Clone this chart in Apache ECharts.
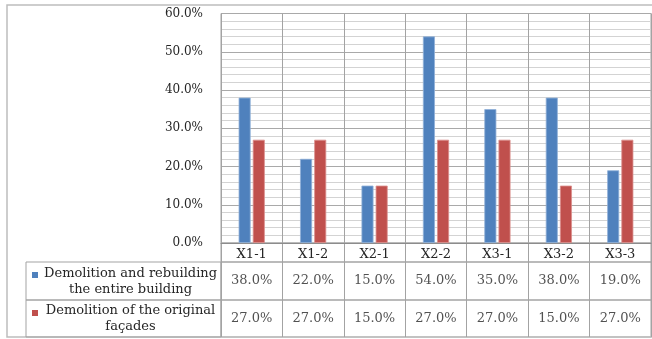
<!DOCTYPE html>
<html>
<head>
<meta charset="utf-8">
<script src="https://cdn.jsdelivr.net/npm/echarts@6/dist/echarts.min.js"></script>
<style>
  html, body { margin: 0; padding: 0; background: #fff; }
  #chart { width: 652px; height: 339px; }
</style>
</head>
<body>
<div id="chart"></div>
<script>
// Categories and the two series (percent values)
const categories = ['X1-1', 'X1-2', 'X2-1', 'X2-2', 'X3-1', 'X3-2', 'X3-3'];
const seriesNames = [
  'Demolition and rebuilding\nthe entire building',
  'Demolition of the original\nfaçades'
];
const rebuildValues = [38, 22, 15, 54, 35, 38, 19];
const facadeValues = [27, 27, 15, 27, 27, 15, 27];
const yTicks = [0, 10, 20, 30, 40, 50, 60];

const seriesValues = [rebuildValues, facadeValues];
const colors = ['#4F81BD', '#C0504D'];
const edgeColors = ['#8fb0d8', '#dc8f8d'];

const FONT = 'DejaVu Serif';
const TEXT = '#262626';
const LINE = '#a3a3a3';

// layout of the plot and data table
const L = 221, W = 430;
const plotTop = 13.5, plotH = 229.5;
const headTop = 243, headH = 19;
const rowTops = [262, 300], rowHs = [38, 37];
const legendLeft = 26;

const fmt = v => v.toFixed(1) + '%';

const grids = [
  { left: L, top: plotTop, width: W, height: plotH, show: true, borderColor: LINE, borderWidth: 1 },
  { left: L, top: headTop, width: W, height: headH, show: true, borderColor: LINE, borderWidth: 1 },
  { left: L, top: rowTops[0], width: W, height: rowHs[0], show: true, borderColor: LINE, borderWidth: 1 },
  { left: L, top: rowTops[1], width: W, height: rowHs[1], show: true, borderColor: LINE, borderWidth: 1 }
];

const xAxes = [
  {
    type: 'category', gridIndex: 0, data: categories,
    axisLine: { show: true, lineStyle: { color: '#8c8c8c', width: 1 } },
    axisTick: { show: false },
    axisLabel: { show: true, interval: 0, margin: 5, fontFamily: FONT, fontSize: 13, color: TEXT },
    splitLine: { show: true, interval: 0, lineStyle: { color: LINE, width: 1 } }
  }
];
const yAxes = [
  {
    type: 'value', gridIndex: 0, min: yTicks[0], max: yTicks[yTicks.length - 1], interval: 10,
    axisLine: { show: false }, axisTick: { show: false },
    axisLabel: { margin: 18, fontFamily: FONT, fontSize: 12, color: TEXT, formatter: v => fmt(v) },
    splitLine: { show: true, lineStyle: { color: '#a9a9a9', width: 1 } },
    minorTick: { show: false, splitNumber: 5 },
    minorSplitLine: { show: true, lineStyle: { color: '#d3d3d3', width: 1 } }
  }
];
for (let g = 1; g <= 3; g++) {
  xAxes.push({
    type: 'category', gridIndex: g, data: categories,
    axisLine: { show: false }, axisTick: { show: false }, axisLabel: { show: false },
    splitLine: { show: true, interval: 0, lineStyle: { color: LINE, width: 1 } }
  });
  yAxes.push({ type: 'value', gridIndex: g, min: 0, max: 1, show: false });
}

const series = [];
seriesValues.forEach((vals, i) => {
  series.push({
    type: 'bar', name: seriesNames[i], xAxisIndex: 0, yAxisIndex: 0,
    data: vals, barWidth: 12, barGap: '18%',
    itemStyle: { color: colors[i], borderColor: edgeColors[i], borderWidth: 0.8 },
    silent: true
  });
  // data table row: one text cell per category
  series.push({
    type: 'scatter', xAxisIndex: i + 2, yAxisIndex: i + 2,
    data: vals.map((v, k) => [k, 0.5, v]),
    symbolSize: 1, itemStyle: { color: 'rgba(0,0,0,0)' },
    label: {
      show: true, position: 'inside', fontFamily: FONT, fontSize: 13, color: TEXT,
      formatter: p => fmt(p.value[2])
    },
    silent: true
  });
});

// legend cells at the left of the data table
const graphic = [
  { type: 'rect', shape: { x: 7, y: 5, width: 700, height: 332 }, style: { fill: 'none', stroke: '#bdbdbd', lineWidth: 1.5 }, silent: true }
];
seriesNames.forEach((name, i) => {
  const top = rowTops[i], h = rowHs[i];
  graphic.push({
    type: 'rect', shape: { x: legendLeft, y: top, width: L - legendLeft, height: h },
    style: { fill: 'none', stroke: LINE, lineWidth: 1 }, silent: true
  });
  graphic.push({
    type: 'rect', shape: { x: 32, y: top + 10, width: 6, height: 6 },
    style: { fill: colors[i] }, silent: true
  });
  graphic.push({
    type: 'text', x: 130.5, y: top + h / 2 + 0.5,
    style: {
      text: name, align: 'center', verticalAlign: 'middle',
      font: '13px "' + FONT + '"', fill: TEXT, lineHeight: 16
    },
    silent: true
  });
});

const chart = echarts.init(document.getElementById('chart'), null, { renderer: 'canvas' });
chart.setOption({
  animation: false,
  backgroundColor: '#ffffff',
  grid: grids,
  xAxis: xAxes,
  yAxis: yAxes,
  series: series,
  graphic: graphic
});
</script>
</body>
</html>
